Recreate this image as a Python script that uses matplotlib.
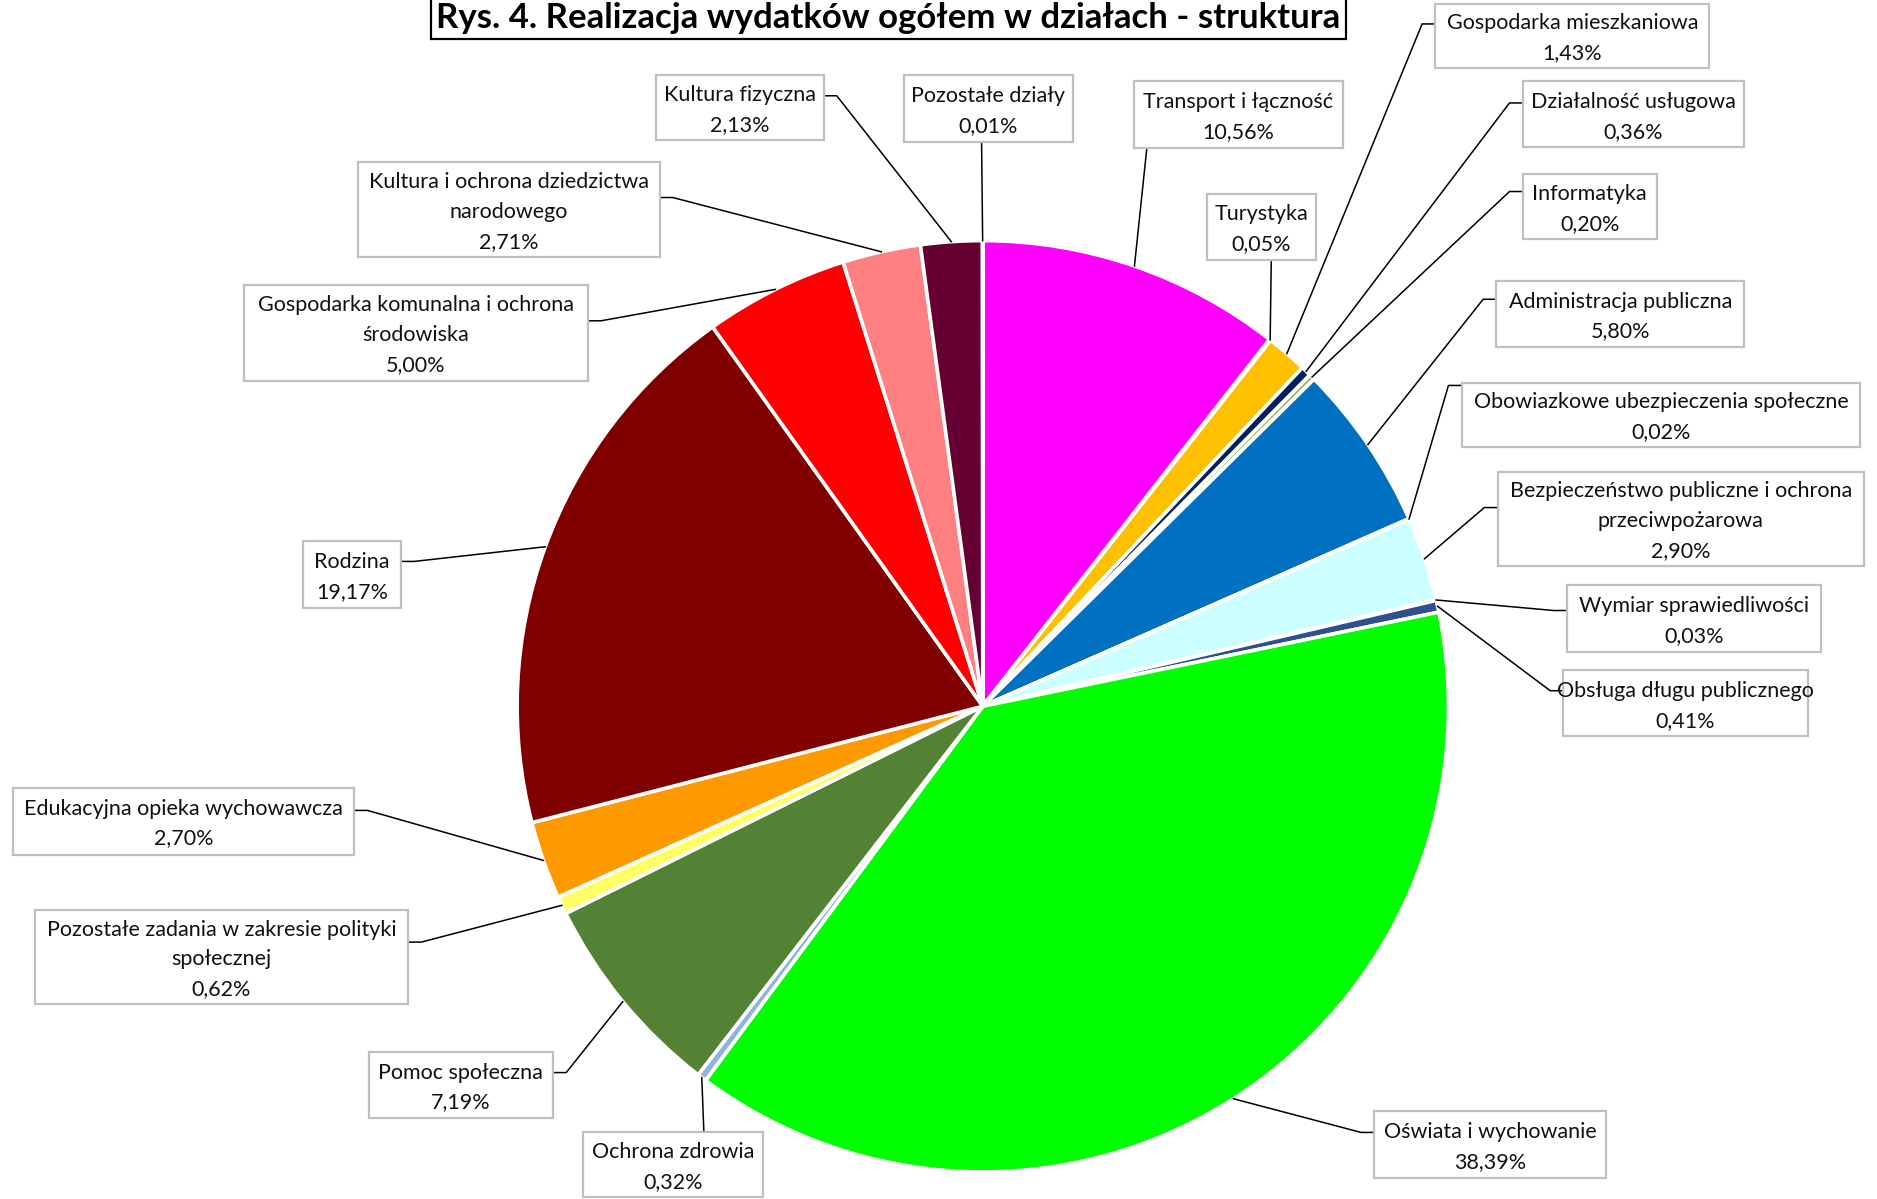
import matplotlib
matplotlib.use("Agg")
import numpy as np
import matplotlib.pyplot as plt
from matplotlib.patches import Rectangle

plt.rcParams['font.family'] = ['Lato', 'DejaVu Sans']

# data (clockwise from 12 o'clock)
labels = ["Transport i łączność", "Turystyka", "Gospodarka mieszkaniowa",
          "Działalność usługowa", "Informatyka", "Administracja publiczna",
          "Obowiazkowe ubezpieczenia społeczne",
          "Bezpieczeństwo publiczne i ochrona\nprzeciwpożarowa",
          "Wymiar sprawiedliwości", "Obsługa długu publicznego",
          "Oświata i wychowanie", "Ochrona zdrowia", "Pomoc społeczna",
          "Pozostałe zadania w zakresie polityki\nspołecznej",
          "Edukacyjna opieka wychowawcza", "Rodzina",
          "Gospodarka komunalna i ochrona\nśrodowiska",
          "Kultura i ochrona dziedzictwa\nnarodowego",
          "Kultura fizyczna", "Pozostałe działy"]
shares = [10.56, 0.05, 1.43, 0.36, 0.20, 5.80, 0.02, 2.90, 0.03, 0.41,
          38.39, 0.32, 7.19, 0.62, 2.70, 19.17, 5.00, 2.71, 2.13, 0.01]
colors = ["#FF00FF", "#9BBB59", "#FFC000", "#002060", "#9BBB59", "#0070C0",
          "#4F81BD", "#CCFFFF", "#4F81BD", "#2F4F8F", "#00FF00", "#8DB4E2",
          "#548235", "#FFFF66", "#FF9900", "#800000", "#FF0000", "#FF8080",
          "#660033", "#C0504D"]

title = "Rys. 4. Realizacja wydatków ogółem w działach - struktura"

W, H = 1877, 1199
S = W / 1568.0

# label boxes (x0, y0, x1, y1) in reference pixels, attach point and stub side
boxes = [
    (947, 68, 1122, 124), (1008, 162, 1099, 217), (1199, 3, 1428, 57),
    (1272, 68, 1457, 123), (1272, 145, 1384, 200), (1250, 235, 1457, 290),
    (1221, 320, 1554, 373), (1251, 394, 1557, 473), (1309, 489, 1521, 545),
    (1306, 560, 1510, 615), (1148, 928, 1342, 984), (487, 946, 637, 1000),
    (308, 879, 462, 934), (29, 760, 341, 839), (11, 658, 296, 714),
    (253, 452, 335, 508), (204, 238, 491, 318), (299, 135, 551, 215),
    (548, 63, 688, 117), (755, 63, 896, 119),
]
attach = [
    ("b", 958), ("b", 1062), ("l", 20), ("l", 86), ("l", 160), ("l", 250),
    ("l", 322), ("l", 424), ("l", 510), ("l", 577), ("l", 946), ("t", 588),
    ("r", 896), ("r", 787), ("r", 677), ("r", 469), ("r", 268), ("r", 165),
    ("r", 80), ("b", 820),
]

fig = plt.figure(figsize=(W / 100, H / 100), dpi=100)
ax = fig.add_axes([0, 0, 1, 1])


def P(x, y):
    return x * S, H - y * S


cx, cy = P(821, 590)
R = 389 * S

wedges, _ = ax.pie(shares, colors=colors, startangle=90, counterclock=False,
                   center=(cx, cy), radius=R, frame=True,
                   wedgeprops=dict(edgecolor="white", linewidth=2.6))
ax.set_xlim(0, W)
ax.set_ylim(0, H)
ax.set_aspect("equal")
ax.axis("off")

for w, lab, val, (x0, y0, x1, y1), (side, a) in zip(wedges, labels, shares,
                                                       boxes, attach):
    bx0, by1 = P(x0, y0)
    bx1, by0 = P(x1, y1)
    ax.add_patch(Rectangle((bx0, by0), bx1 - bx0, by1 - by0, facecolor="white",
                           edgecolor="#BFBFBF", lw=1.6, zorder=3))
    ax.text((bx0 + bx1) / 2, (by0 + by1) / 2 - 2 * S,
            lab + "\n" + f"{val:.2f}%".replace(".", ","),
            ha="center", va="center", fontsize=15.5, linespacing=1.62,
            color="#111111", zorder=4)
    ang = np.deg2rad((w.theta1 + w.theta2) / 2)
    ex, ey = cx + R * np.cos(ang), cy + R * np.sin(ang)
    if side == "b":
        px, py = P(a, y1)
        xs, ys = [ex, px], [ey, py]
    elif side == "t":
        px, py = P(a, y0)
        xs, ys = [ex, px], [ey, py]
    elif side == "l":
        px, py = P(x0, a)
        xs, ys = [ex, px - 11 * S, px], [ey, py, py]
    else:
        px, py = P(x1, a)
        xs, ys = [ex, px + 11 * S, px], [ey, py, py]
    ax.plot(xs, ys, color="black", lw=1.1, zorder=2)

ax.text(*P(742, 15), title, ha="center", va="center", fontsize=25,
        fontweight="bold", zorder=5,
        bbox=dict(boxstyle="square,pad=0.15", facecolor="white",
                  edgecolor="black", lw=1.6))

fig.savefig("out.png", dpi=100)
